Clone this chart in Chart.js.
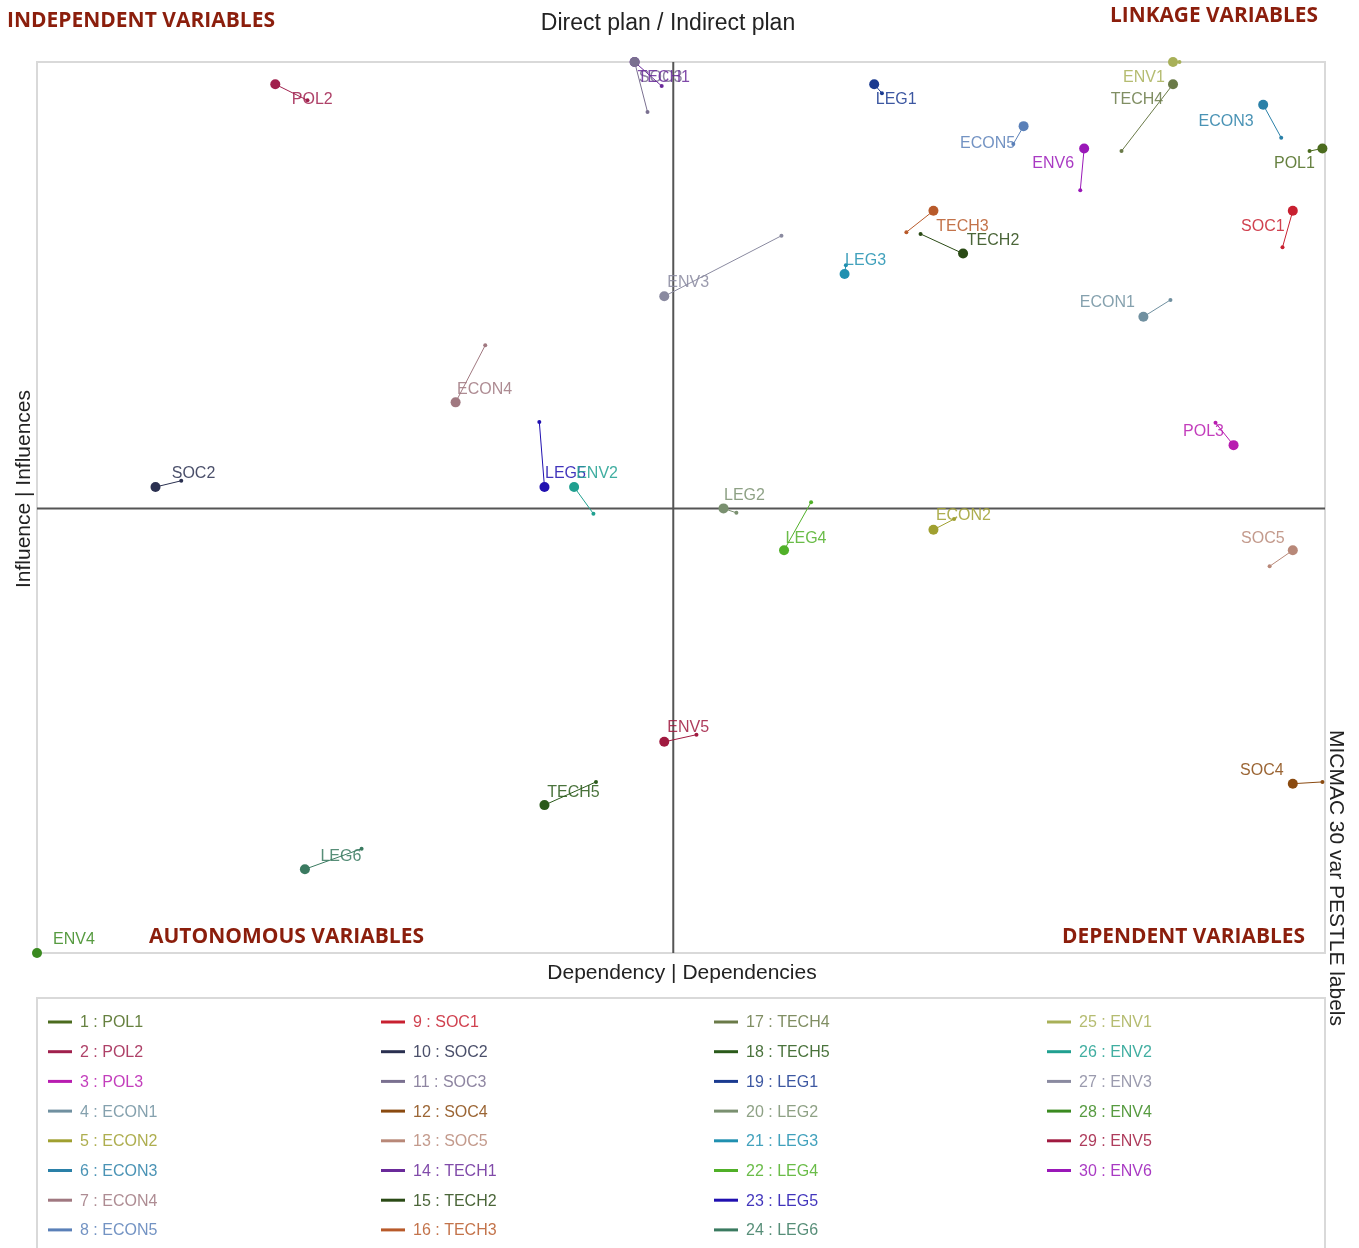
<!DOCTYPE html>
<html lang="en">
<head>
    <meta charset="UTF-8">
    <title>MICMAC 30 var PESTLE labels</title>
    <script src="https://cdn.jsdelivr.net/npm/chart.js"></script>
    <style>
        html, body { margin: 0; padding: 0; background: #fff; }
        canvas { display: block; }
    </style>
</head>
<body>
    <canvas id="micmac" width="1359" height="1248"></canvas>
    <script>
        // variables, direct plan (big dot) and indirect plan (small dot), 0-100 scale
        const names = ['POL1', 'POL2', 'POL3', 'ECON1', 'ECON2', 'ECON3', 'ECON4', 'ECON5', 'SOC1', 'SOC2',
            'SOC3', 'SOC4', 'SOC5', 'TECH1', 'TECH2', 'TECH3', 'TECH4', 'TECH5', 'LEG1', 'LEG2',
            'LEG3', 'LEG4', 'LEG5', 'LEG6', 'ENV1', 'ENV2', 'ENV3', 'ENV4', 'ENV5', 'ENV6'];
        const directDep = [99.8, 18.5, 92.9, 85.9, 69.6, 95.2, 32.5, 76.6, 97.5, 9.2,
            46.4, 97.5, 97.5, 46.4, 71.9, 69.6, 88.2, 39.4, 65.0, 53.3,
            62.7, 58.0, 39.4, 20.8, 88.2, 41.7, 48.7, 0.0, 48.7, 81.3];
        const directInf = [90.3, 97.5, 57.0, 71.4, 47.5, 95.2, 61.8, 92.8, 83.3, 52.3,
            100, 19.0, 45.2, 100, 78.5, 83.3, 97.5, 16.6, 97.5, 49.9,
            76.2, 45.2, 52.3, 9.4, 100, 52.3, 73.7, 0.0, 23.7, 90.3];
        const indirectDep = [98.8, 21.0, 91.5, 88.0, 71.2, 96.6, 34.8, 75.8, 96.7, 11.2,
            47.4, 99.8, 95.7, 48.5, 68.6, 67.5, 84.2, 43.4, 65.6, 54.3,
            62.8, 60.1, 39.0, 25.2, 88.7, 43.2, 57.8, 0.0, 51.2, 81.0];
        const indirectInf = [90.0, 95.7, 59.5, 73.3, 48.7, 91.5, 68.2, 90.8, 79.2, 53.0,
            94.4, 19.2, 43.4, 97.3, 80.7, 80.9, 90.0, 19.2, 96.5, 49.4,
            77.2, 50.6, 59.6, 11.7, 100, 49.3, 80.5, 0.0, 24.5, 85.6];
        const crossDep = 49.4;
        const crossInf = 49.9;

        const colors = ['#4b6b1e', '#a0204d', '#b81cb0', '#7090a0', '#a0a030', '#2a80a8', '#a07880', '#5a80b8', '#c82030', '#2a3050',
            '#7a7090', '#8a4a10', '#b88878', '#6a2a9a', '#2a4a15', '#b85a2a', '#6a7a48', '#2a5a1a', '#1a3a90', '#7a9070',
            '#2090b0', '#50b028', '#2010b0', '#3a7a60', '#a8b058', '#20a090', '#8a8aa0', '#3a8a20', '#a01a40', '#9a18b8'];

        // label offset from the direct point, in pixels
        const labelOffsets = [[-28, 15], [37, 15], [-30, -14], [-36, -14], [30, -14], [-37, 17], [29, -13], [-36, 17], [-30, 16], [38, -13],
            [26, 16], [-31, -13], [-30, -12], [29, 16], [30, -13], [29, 16], [-36, 15], [29, -13], [22, 15], [21, -13],
            [21, -13], [22, -12], [21, -13], [36, -13], [-29, 16], [23, -13], [24, -14], [37, -13], [24, -14], [-31, 15]];

        const datasets = names.map((n, i) => ({
            label: (i + 1) + ' : ' + n,
            data: [{ x: directDep[i], y: directInf[i] }, { x: indirectDep[i], y: indirectInf[i] }],
            showLine: true,
            borderColor: colors[i],
            backgroundColor: colors[i],
            borderWidth: 1,
            pointRadius: [5, 2],
            pointBorderWidth: 0,
            pointHoverRadius: [6, 3],
            clip: false
        }));

        const overlay = {
            id: 'overlay',
            beforeDatasetsDraw(chart) {
                const ctx = chart.ctx;
                const a = chart.chartArea;
                const xs = chart.scales.x, ys = chart.scales.y;
                ctx.save();
                ctx.strokeStyle = '#d9d9d9';
                ctx.lineWidth = 2;
                ctx.strokeRect(a.left, a.top, a.right - a.left, a.bottom - a.top);
                ctx.strokeStyle = '#555';
                ctx.lineWidth = 2;
                const cx = xs.getPixelForValue(crossDep);
                const cy = ys.getPixelForValue(crossInf);
                ctx.beginPath();
                ctx.moveTo(cx, a.top); ctx.lineTo(cx, a.bottom);
                ctx.moveTo(a.left, cy); ctx.lineTo(a.right, cy);
                ctx.stroke();
                ctx.restore();
            },
            afterDatasetsDraw(chart) {
                const ctx = chart.ctx;
                const a = chart.chartArea;
                const xs = chart.scales.x, ys = chart.scales.y;
                ctx.save();

                // point labels
                ctx.font = '16px "Liberation Sans", Arial, sans-serif';
                ctx.textAlign = 'center';
                ctx.textBaseline = 'middle';
                names.forEach((n, i) => {
                    const px = xs.getPixelForValue(directDep[i]) + labelOffsets[i][0];
                    const py = ys.getPixelForValue(directInf[i]) + labelOffsets[i][1];
                    ctx.globalAlpha = 0.85;
                    ctx.fillStyle = colors[i];
                    ctx.fillText(n, px, py);
                });
                ctx.globalAlpha = 1;

                // titles
                ctx.fillStyle = '#222';
                ctx.font = '23px "Liberation Sans", Arial, sans-serif';
                ctx.fillText('Direct plan / Indirect plan', 668, 24, 262);
                ctx.font = '21px "Liberation Sans", Arial, sans-serif';
                ctx.fillText('Dependency | Dependencies', 682, 973, 272);
                ctx.save();
                ctx.translate(24, 489);
                ctx.rotate(-Math.PI / 2);
                ctx.fillText('Influence | Influences', 0, 0, 200);
                ctx.restore();
                ctx.save();
                ctx.translate(1336, 878);
                ctx.rotate(Math.PI / 2);
                ctx.fillText('MICMAC 30 var PESTLE labels', 0, 0, 296);
                ctx.restore();

                // quadrant names
                ctx.fillStyle = '#8b1e0c';
                ctx.font = 'bold 21px "Open Sans", sans-serif';
                ctx.textAlign = 'left';
                ctx.fillText('INDEPENDENT VARIABLES', 7, 21, 268);
                ctx.fillText('LINKAGE VARIABLES', 1110, 16, 208);
                ctx.fillText('AUTONOMOUS VARIABLES', 149, 937, 275);
                ctx.fillText('DEPENDENT VARIABLES', 1062, 937, 243);

                // legend box
                ctx.strokeStyle = '#d9d9d9';
                ctx.lineWidth = 2;
                ctx.strokeRect(a.left, 998, a.right - a.left, 270);
                ctx.font = '16px "Liberation Sans", Arial, sans-serif';
                ctx.textBaseline = 'middle';
                names.forEach((n, i) => {
                    const col = Math.floor(i / 8), row = i % 8;
                    const lx = 48 + col * 333;
                    const ly = 1022 + row * 29.7;
                    ctx.strokeStyle = colors[i];
                    ctx.lineWidth = 3;
                    ctx.beginPath();
                    ctx.moveTo(lx, ly); ctx.lineTo(lx + 24, ly);
                    ctx.stroke();
                    ctx.fillStyle = colors[i];
                    ctx.globalAlpha = 0.85;
                    ctx.fillText(datasets[i].label, lx + 32, ly + 1);
                    ctx.globalAlpha = 1;
                });
                ctx.restore();
            }
        };

        new Chart(document.getElementById('micmac'), {
            type: 'scatter',
            data: { datasets: datasets },
            options: {
                responsive: false,
                animation: false,
                devicePixelRatio: 1,
                layout: { padding: { left: 37, top: 62, right: 34, bottom: 295 } },
                scales: {
                    x: { min: 0, max: 100, display: false },
                    y: { min: 0, max: 100, display: false }
                },
                plugins: {
                    legend: { display: false },
                    tooltip: { enabled: true }
                }
            },
            plugins: [overlay]
        });
    </script>
</body>
</html>
